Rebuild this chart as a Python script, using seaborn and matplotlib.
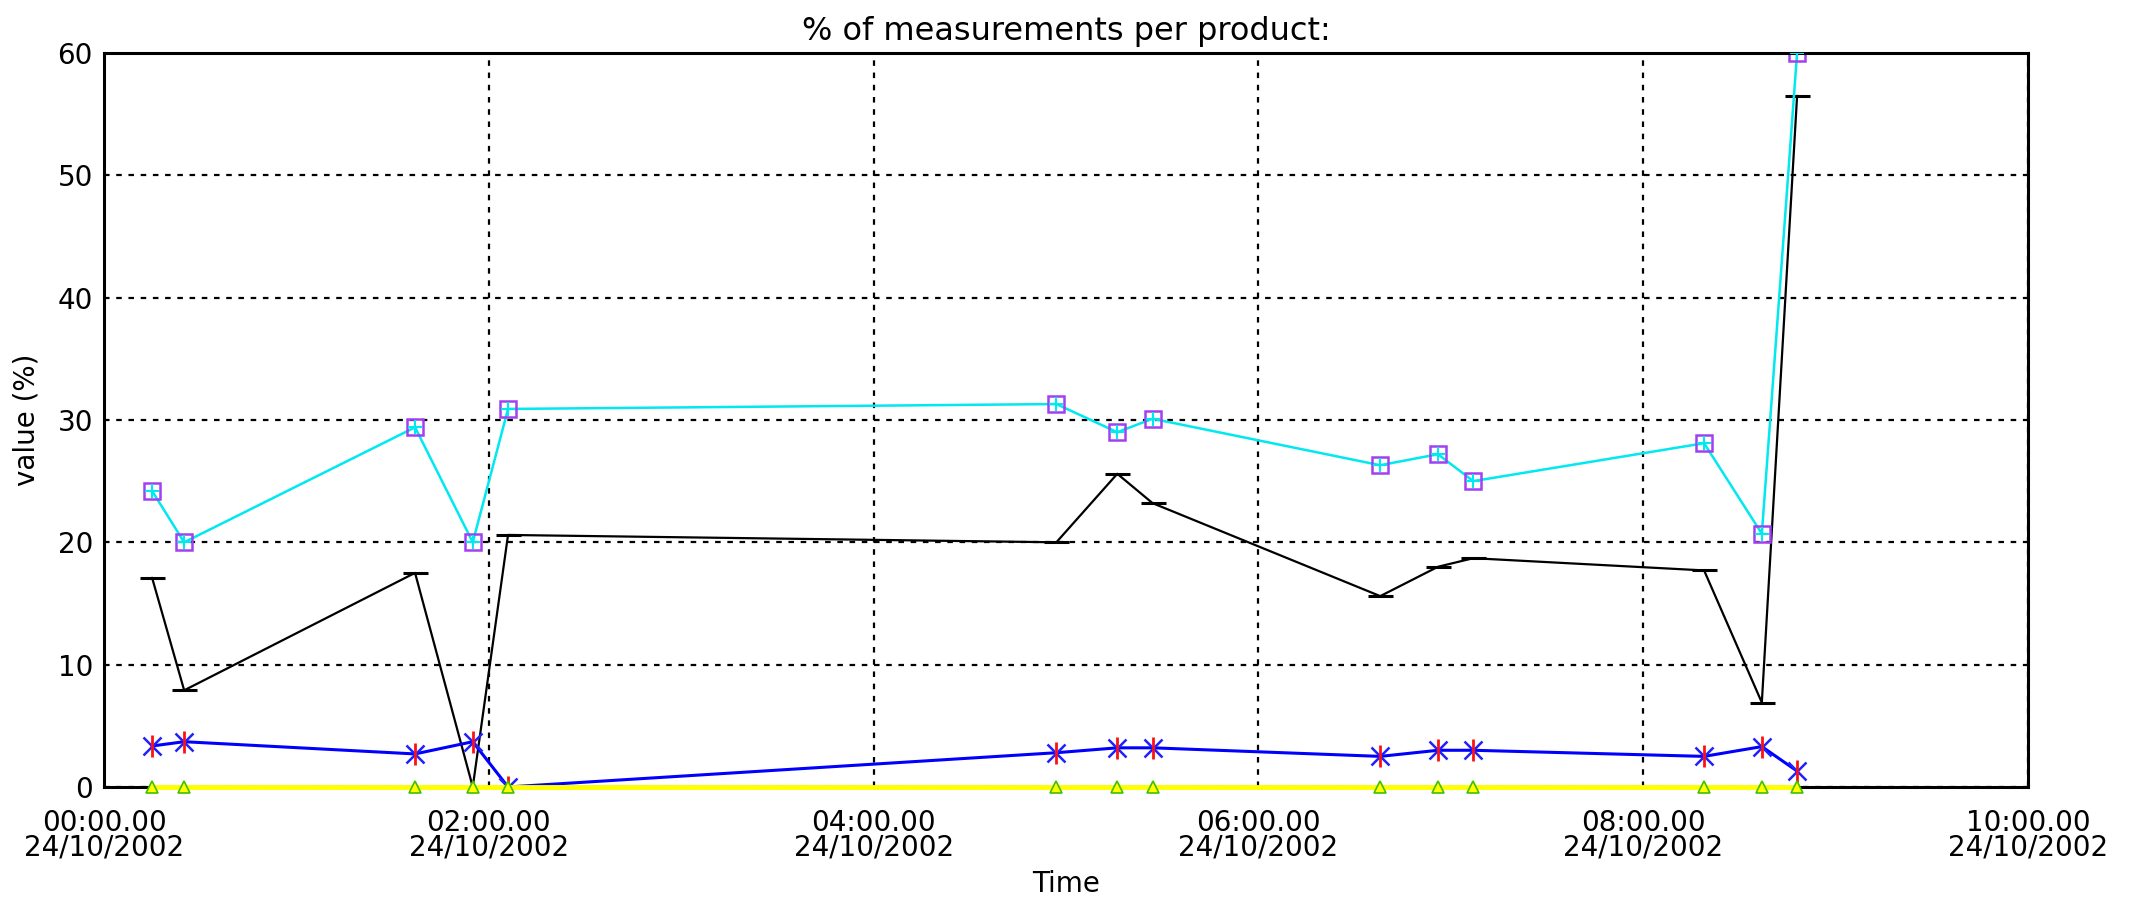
import numpy as np
import pandas as pd
import matplotlib
matplotlib.use("Agg")
import matplotlib.pyplot as plt
import matplotlib.dates as mdates
import seaborn as sns

# ---- data ----
times = ["00:15", "00:25", "01:37", "01:55", "02:06", "04:57", "05:16",
         "05:27", "06:38", "06:56", "07:07", "08:19", "08:37", "08:48"]
prod_squares = [24.2, 20.0, 29.4, 20.0, 30.9, 31.3, 29.0, 30.1, 26.3, 27.2, 25.0, 28.1, 20.7, 60.0]
prod_black   = [17.1, 7.9, 17.5, 0.0, 20.6, 20.0, 25.6, 23.2, 15.6, 18.0, 18.7, 17.7, 6.9, 56.5]
prod_stars   = [3.35, 3.7, 2.7, 3.7, 0.0, 2.8, 3.2, 3.2, 2.5, 3.0, 3.0, 2.5, 3.3, 1.3]
prod_tri     = [0, 0, 0, 0, 0, 0, 0, 0, 0, 0, 0, 0, 0, 0]
yticks = [0, 10, 20, 30, 40, 50, 60]
title = "% of measurements per product:"
xlabel = "Time"
ylabel = "value (%)"

t = pd.to_datetime(["2002-10-24 " + s for s in times])
df = pd.DataFrame({"t": t, "sq": prod_squares, "bk": prod_black,
                   "st": prod_stars, "tr": prod_tri})

sns.set_theme(style="white")
plt.rcParams['font.family'] = ['DejaVu Sans']
FS = 20

fig = plt.figure(figsize=(21.29, 9.10), dpi=100)
ax = fig.add_axes([0.04885, 0.1352, 0.9037, 0.8066])

# grid
ax.set_axisbelow(True)
ax.grid(True, color="black", linestyle=(0, (2.5, 3)), linewidth=1.6)

# black series
sns.lineplot(data=df, x="t", y="bk", ax=ax, color="black", linewidth=1.6,
             marker="_", markersize=18, markeredgewidth=2.2, markeredgecolor="black")
# cyan series with purple squares
sns.lineplot(data=df, x="t", y="sq", ax=ax, color="#00e8f0", linewidth=1.8,
             marker="s", markersize=12, markerfacecolor="none",
             markeredgecolor="#a040f0", markeredgewidth=1.8)
sns.scatterplot(data=df, x="t", y="sq", ax=ax, marker="+", s=110,
                color="#00e8f0", linewidth=1.5, zorder=5)
# blue series with asterisks
sns.lineplot(data=df, x="t", y="st", ax=ax, color="#0000ff", linewidth=2.2,
             marker="x", markersize=13, markeredgewidth=1.8,
             markeredgecolor="#2020ff")
sns.scatterplot(data=df, x="t", y="st", ax=ax, marker="|", s=230,
                color="#ff1010", linewidth=2.0, zorder=6)
# yellow series with triangles
sns.lineplot(data=df, x="t", y="tr", ax=ax, color="#ffff00", linewidth=3.5,
             marker="^", markersize=8, markerfacecolor="#ffff00",
             markeredgecolor="#40c000", markeredgewidth=1.2, zorder=7,
             clip_on=False)

ax.set_xlim(pd.Timestamp("2002-10-24 00:00"), pd.Timestamp("2002-10-24 10:00"))
ax.set_ylim(0, 60)
ax.set_yticks(yticks)
ax.xaxis.set_major_locator(mdates.HourLocator(byhour=[0, 2, 4, 6, 8, 10]))
ax.xaxis.set_major_formatter(mdates.DateFormatter("%H:%M.%S\n%d/%m/%Y"))
ax.tick_params(axis="both", length=0, labelsize=FS, colors="black")
ax.tick_params(axis="x", pad=16)
ax.tick_params(axis="y", pad=8)
for lab in ax.get_xticklabels():
    lab.set_linespacing(0.85)

for s in ax.spines.values():
    s.set_visible(True)
    s.set_color("black")
    s.set_linewidth(2.2)

ax.set_title(title, fontsize=23, pad=9, color="black")
ax.set_xlabel(xlabel, fontsize=FS, labelpad=6, color="black")
ax.set_ylabel(ylabel, fontsize=FS, labelpad=12, color="black")

fig.savefig("out.png", dpi=100, facecolor="white")
